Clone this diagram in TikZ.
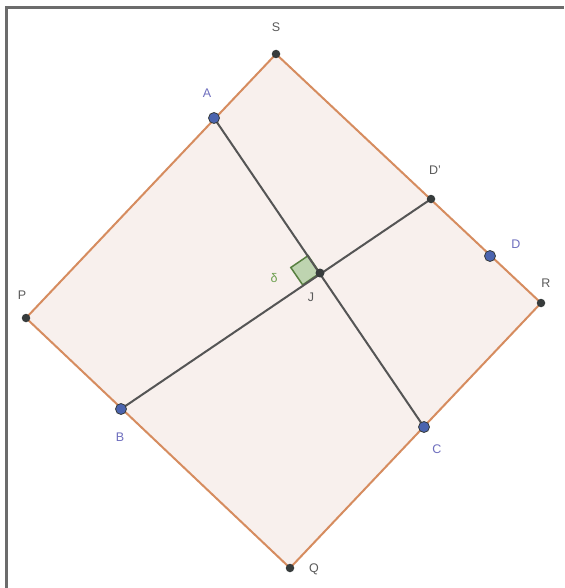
\documentclass[tikz,border=0pt]{standalone}
\usepackage{fontspec}
\setmainfont{Liberation Sans}
\usetikzlibrary{calc,positioning}
\definecolor{edgeor}{RGB}{214,140,95}
\definecolor{fillor}{RGB}{248,240,237}
\definecolor{segray}{RGB}{85,85,85}
\definecolor{ptblue}{RGB}{75,100,175}
\definecolor{ptdark}{RGB}{55,60,60}
\definecolor{lblblue}{RGB}{110,110,190}
\definecolor{lblgray}{RGB}{90,90,90}
\definecolor{anggreen}{RGB}{110,160,80}
\begin{document}
\begin{tikzpicture}[
x=1pt,y=-1pt,
bluept/.style={
  circle,
  fill=ptblue,
  draw=ptdark,
  line width=0.8pt,
  inner sep=0pt,
  minimum size=11pt
  },
darkpt/.style={
  circle,
  fill=ptdark,
  inner sep=0pt,
  minimum size=8.5pt
  },
lblb/.style={
  text=lblblue,
  font=\fontsize{12.5}{14}\selectfont
  },
lbld/.style={
  text=lblgray,
  font=\fontsize{12.5}{14}\selectfont
  },
side/.style={
  draw=edgeor,
  line width=2pt
  },
seg/.style={
  draw=segray,
  line width=2pt
  }
]
\useasboundingbox (0,0) rectangle (564,588);
\fill[white] (0,0) rectangle (564,588);
\draw[gray!85!black,line width=2.5pt] (6.5,588) -- (6.5,7.5) -- (564,7.5);
% square PQRS
\coordinate (S) at (276,54);
\coordinate (P) at (26,318);
\coordinate (Q) at (290,568);
\coordinate (R) at (541,303);
\filldraw[side,fill=fillor,line join=round] (S) -- (P) -- (Q) -- (R) -- cycle;
% points on the sides
\coordinate (A) at (214,118);
\coordinate (B) at (121,409);
\coordinate (C) at (424,427);
\coordinate (D) at (490,256);
\coordinate (Dp) at (431,199);
\coordinate (J) at (320,273);
% right angle at J
\path ($(J)!21pt!(A)$) coordinate (ja)
      ($(J)!21pt!(B)$) coordinate (jb);
\filldraw[fill=anggreen!45,draw=anggreen!80!black,line width=1.5pt]
  (J) -- (ja) -- ($(ja)+(jb)-(J)$) -- (jb) -- cycle;
\draw[seg] (A) -- (C);
\draw[seg] (B) -- (Dp);
% the points
\node[darkpt] (s) at (S) {};
\node[darkpt] (p) at (P) {};
\node[darkpt] (q) at (Q) {};
\node[darkpt] (r) at (R) {};
\node[darkpt] (dp) at (Dp) {};
\node[darkpt,minimum size=9pt] (j) at (J) {};
\node[bluept] (a) at (A) {};
\node[bluept] (b) at (B) {};
\node[bluept] (c) at (C) {};
\node[bluept] (d) at (D) {};
% labels
\node[lbld] (ls) at (276,27) {S};
\node[lbld] (lp) at (22,295) {P};
\node[lbld] (lq) at (314,569) {Q};
\node[lbld] (lr) at (546,283) {R};
\node[lbld] (ldp) at (435,170) {D'};
\node[lbld] (lj) at (311,297) {J};
\node[lblb] (la) at (207,93) {A};
\node[lblb] (lb) at (120,437) {B};
\node[lblb] (lc) at (437,449) {C};
\node[lblb] (ld) at (516,244) {D};
\node[text=anggreen,font=\fontsize{12.5}{14}\selectfont] (ldelta) at (274,278) {δ};
\end{tikzpicture}
\end{document}
